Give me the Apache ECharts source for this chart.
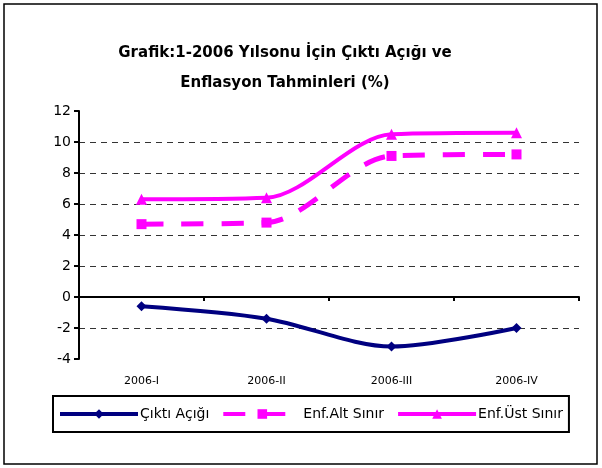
<!DOCTYPE html>
<html>
<head>
<meta charset="utf-8">
<script src="https://cdn.jsdelivr.net/npm/echarts@6/dist/echarts.min.js"></script>
<style>
  html, body { margin: 0; padding: 0; background: #fff; }
  #chart { width: 602px; height: 468px; }
</style>
</head>
<body>
<div id="chart"></div>
<script>
var categories = ['2006-I', '2006-II', '2006-III', '2006-IV'];
var ciktiAcigi = [-0.6, -1.4, -3.2, -2.0];
var enfAlt = [4.7, 4.8, 9.1, 9.2];
var enfUst = [6.3, 6.4, 10.5, 10.6];
var yMin = -4, yMax = 12, yStep = 2;

var font = 'DejaVu Sans';

// grid lines: hide the ones at -4 and 12
var gridColors = [];
for (var v = yMin; v <= yMax; v += yStep) {
    gridColors.push(v === yMin || v === yMax ? 'rgba(0,0,0,0)' : '#333');
}

var chart = echarts.init(document.getElementById('chart'));
chart.setOption({
    animation: false,
    backgroundColor: '#fff',
    textStyle: { fontFamily: font },
    title: {
        text: 'Grafik:1-2006 Yılsonu İçin Çıktı Açığı ve\nEnflasyon Tahminleri (%)',
        left: 280,
        textAlign: 'center',
        top: 33,
        textStyle: { fontSize: 15, fontWeight: 'bold', color: '#000', lineHeight: 30, fontFamily: font }
    },
    graphic: [{
        type: 'rect',
        shape: { x: 4, y: 4, width: 593, height: 460 },
        style: { fill: 'none', stroke: '#000', lineWidth: 1.5 },
        silent: true
    }],
    legend: {
        left: 53,
        top: 396,
        padding: [11, 6, 11, 5],
        borderColor: '#000',
        borderWidth: 2,
        itemWidth: 78,
        itemHeight: 12,
        itemGap: 12,
        lineStyle: { width: 4 },
        textStyle: { fontSize: 14, color: '#000', padding: [0, 0, 0, -3] },
        data: ['Çıktı Açığı', 'Enf.Alt Sınır', 'Enf.Üst Sınır']
    },
    grid: { left: 79, right: 23, top: 111, bottom: 109, containLabel: false },
    xAxis: [{
        type: 'category',
        data: categories,
        boundaryGap: true,
        axisLine: { onZero: true, lineStyle: { color: '#000', width: 2 } },
        axisTick: { show: true, length: 4, lineStyle: { color: '#000', width: 2 } },
        axisLabel: { show: false },
        splitLine: { show: false }
    }, {
        type: 'category',
        data: categories,
        position: 'bottom',
        boundaryGap: true,
        axisLine: { show: false, onZero: false },
        axisTick: { show: false },
        axisLabel: { show: true, fontSize: 11, color: '#000', margin: 17 },
        splitLine: { show: false }
    }],
    yAxis: {
        type: 'value',
        min: yMin,
        max: yMax,
        interval: yStep,
        axisLine: { show: true, onZero: false, lineStyle: { color: '#000', width: 2 } },
        axisTick: { show: true, length: 5, lineStyle: { color: '#000', width: 2 } },
        axisLabel: { fontSize: 14, color: '#000', margin: 8 },
        splitLine: { show: true, lineStyle: { color: gridColors, type: [6, 5], width: 1 } }
    },
    series: [{
        name: 'Çıktı Açığı',
        type: 'line',
        smooth: 0.3,
        data: ciktiAcigi,
        symbol: 'diamond',
        symbolSize: 10,
        itemStyle: { color: '#000080' },
        lineStyle: { color: '#000080', width: 4 }
    }, {
        name: 'Enf.Alt Sınır',
        type: 'line',
        smooth: 0.3,
        data: enfAlt,
        symbol: 'rect',
        symbolSize: 10,
        itemStyle: { color: '#ff00ff' },
        lineStyle: { color: '#ff00ff', width: 5, type: [22, 18] }
    }, {
        name: 'Enf.Üst Sınır',
        type: 'line',
        smooth: 0.3,
        data: enfUst,
        symbol: 'triangle',
        symbolSize: 11,
        itemStyle: { color: '#ff00ff' },
        lineStyle: { color: '#ff00ff', width: 4 }
    }]
});

window.addEventListener('resize', function () {
    chart.resize();
});
</script>
</body>
</html>
